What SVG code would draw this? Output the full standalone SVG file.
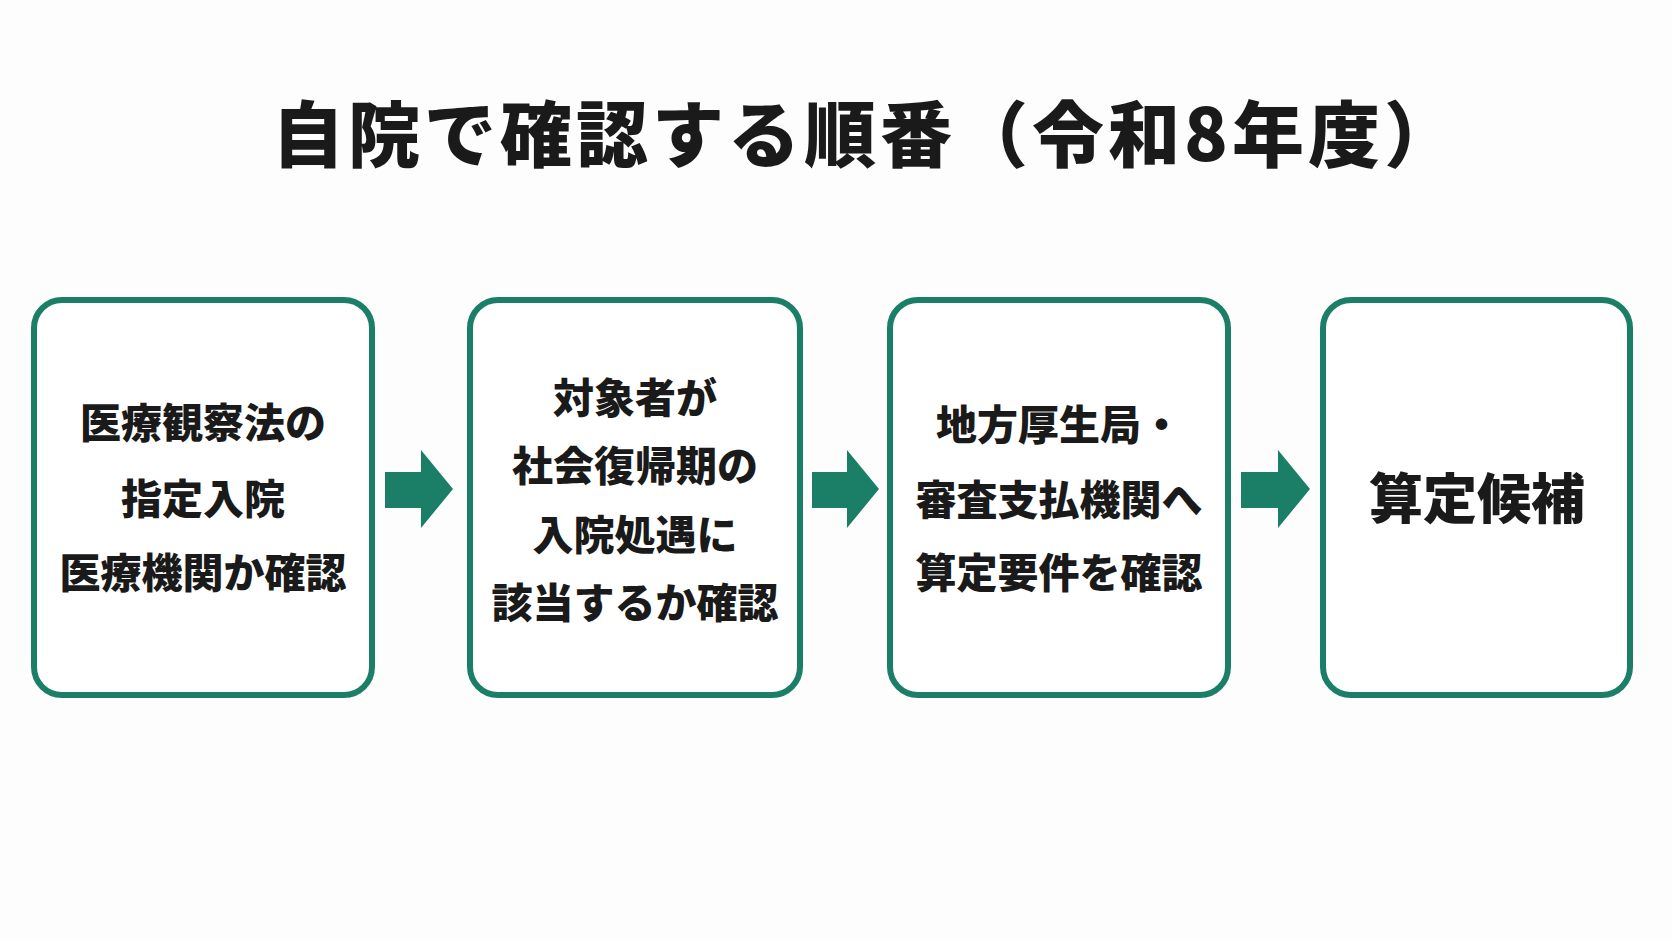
<svg xmlns="http://www.w3.org/2000/svg" width="1672" height="941" viewBox="0 0 1672 941">
<style>
.box{fill:#fff;stroke:#1b7f68;stroke-width:6}
.t{font-family:"Noto Sans CJK JP","Noto Sans",sans-serif;font-weight:900;fill:#1a1a1a;text-anchor:middle;dominant-baseline:central}
.a{fill:#1b7f68}
</style>
<rect width="1672" height="941" fill="#fdfdfd"/>
<text class="t" x="866" y="129" font-size="72" letter-spacing="4">自院で確認する順番（令和8年度）</text>
<g id="n1"><rect class="box" x="34" y="300" width="338" height="395" rx="28"/>
<text class="t" font-size="41" x="203" y="420">医療観察法の</text>
<text class="t" font-size="41" x="203" y="496">指定入院</text>
<text class="t" font-size="41" x="203" y="570">医療機関か確認</text></g>
<g id="n2"><rect class="box" x="470" y="300" width="330" height="395" rx="28"/>
<text class="t" font-size="41" x="635" y="395">対象者が</text>
<text class="t" font-size="41" x="635" y="463">社会復帰期の</text>
<text class="t" font-size="41" x="635" y="532">入院処遇に</text>
<text class="t" font-size="41" x="635" y="600">該当するか確認</text></g>
<g id="n3"><rect class="box" x="890" y="300" width="338" height="395" rx="28"/>
<text class="t" font-size="41" x="1059" y="422">地方厚生局・</text>
<text class="t" font-size="41" x="1059" y="497">審査支払機関へ</text>
<text class="t" font-size="41" x="1059" y="570">算定要件を確認</text></g>
<g id="n4"><rect class="box" x="1323" y="300" width="307" height="395" rx="28"/>
<text class="t" font-size="54" x="1477" y="495">算定候補</text></g>
<g id="connectors">
<polygon class="a" points="385,472 421,472 421,450 453,489 421,528 421,508 385,508"/>
<polygon class="a" points="812,472 847,472 847,450 879,489 847,528 847,508 812,508"/>
<polygon class="a" points="1241,472 1278,472 1278,450 1310,489 1278,528 1278,508 1241,508"/>
</g>
</svg>
